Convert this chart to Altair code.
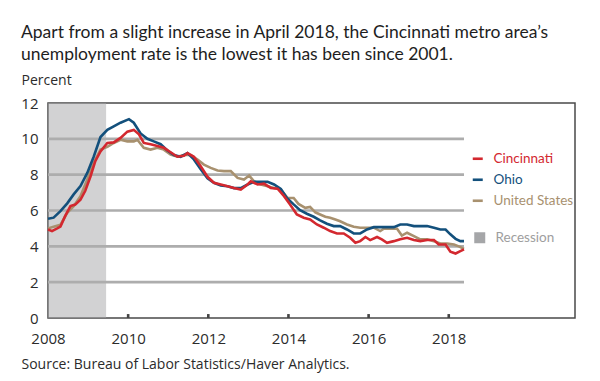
import altair as alt
import pandas as pd

title_lines = [
    "Apart from a slight increase in April 2018, the Cincinnati metro area\u2019s",
    "unemployment rate is the lowest it has been since 2001.",
]
y_title = "Percent"
source_text = "Source: Bureau of Labor Statistics/Haver Analytics."

series_names = ["Cincinnati", "Ohio", "United States"]
series_colors = ["#d3282f", "#13507c", "#a8916f"]

cin_years = [2008.0, 2008.1, 2008.23, 2008.31, 2008.43, 2008.56, 2008.68, 2008.81, 2008.93, 2009.06,
             2009.18, 2009.31, 2009.48, 2009.64, 2009.81, 2009.98, 2010.14, 2010.27, 2010.39, 2010.56,
             2010.73, 2010.89, 2011.06, 2011.23, 2011.39, 2011.48, 2011.64, 2011.81, 2011.98, 2012.14,
             2012.31, 2012.48, 2012.64, 2012.81, 2012.98, 2013.06, 2013.23, 2013.39, 2013.56, 2013.73,
             2013.89, 2014.04, 2014.21, 2014.38, 2014.54, 2014.71, 2014.88, 2015.04, 2015.21, 2015.38,
             2015.54, 2015.67, 2015.79, 2015.92, 2016.04, 2016.21, 2016.33, 2016.46, 2016.63, 2016.79,
             2016.96, 2017.13, 2017.29, 2017.46, 2017.63, 2017.75, 2017.92, 2018.04, 2018.17, 2018.29,
             2018.38]
cin_values = [4.94, 4.85, 5.0, 5.1, 5.7, 6.25, 6.33, 6.6, 7.1, 7.9,
              8.75, 9.3, 9.77, 9.8, 10.05, 10.4, 10.5, 10.25, 9.77, 9.7,
              9.6, 9.5, 9.25, 9.0, 9.05, 9.2, 9.0, 8.47, 7.88, 7.55,
              7.45, 7.35, 7.25, 7.17, 7.45, 7.63, 7.45, 7.5, 7.26, 7.22,
              6.8, 6.34, 5.78, 5.6, 5.5, 5.22, 5.04, 4.85, 4.72, 4.72,
              4.48, 4.2, 4.29, 4.52, 4.35, 4.52, 4.39, 4.2, 4.29, 4.39,
              4.48, 4.35, 4.29, 4.35, 4.35, 4.1, 4.1, 3.7, 3.6, 3.73,
              3.83]

ohio_years = [2008.0, 2008.14, 2008.31, 2008.48, 2008.64, 2008.81, 2008.98, 2009.14, 2009.31, 2009.48,
              2009.64, 2009.81, 2010.02, 2010.14, 2010.31, 2010.48, 2010.64, 2010.81, 2010.98, 2011.14,
              2011.31, 2011.48, 2011.64, 2011.81, 2011.98, 2012.14, 2012.31, 2012.48, 2012.64, 2012.81,
              2012.98, 2013.14, 2013.31, 2013.48, 2013.64, 2013.81, 2013.96, 2014.13, 2014.29, 2014.46,
              2014.63, 2014.79, 2014.96, 2015.13, 2015.29, 2015.46, 2015.63, 2015.79, 2015.96, 2016.13,
              2016.29, 2016.46, 2016.63, 2016.79, 2016.96, 2017.13, 2017.29, 2017.46, 2017.63, 2017.79,
              2017.92, 2018.04, 2018.17, 2018.29, 2018.38]
ohio_values = [5.54, 5.6, 5.96, 6.4, 6.9, 7.36, 8.1, 9.0, 10.1, 10.5,
               10.7, 10.9, 11.1, 10.9, 10.3, 10.0, 9.86, 9.7, 9.35, 9.1,
               9.0, 9.2, 8.85, 8.3, 7.8, 7.55, 7.4, 7.35, 7.25, 7.25,
               7.45, 7.6, 7.6, 7.6, 7.45, 7.2, 6.7, 6.34, 6.02, 5.82,
               5.65, 5.45, 5.26, 5.13, 5.13, 4.94, 4.72, 4.72, 4.94, 5.07,
               5.07, 5.07, 5.07, 5.22, 5.22, 5.13, 5.13, 5.13, 5.04, 4.94,
               4.94, 4.67, 4.42, 4.29, 4.29]

us_years = [2008.0, 2008.14, 2008.31, 2008.48, 2008.64, 2008.81, 2008.98, 2009.14, 2009.31, 2009.48,
            2009.64, 2009.81, 2009.98, 2010.14, 2010.23, 2010.39, 2010.56, 2010.73, 2010.89, 2011.06,
            2011.23, 2011.39, 2011.56, 2011.73, 2011.89, 2012.06, 2012.23, 2012.39, 2012.56, 2012.73,
            2012.89, 2013.02, 2013.14, 2013.31, 2013.48, 2013.64, 2013.81, 2013.98, 2014.13, 2014.25,
            2014.42, 2014.54, 2014.67, 2014.79, 2014.92, 2015.04, 2015.17, 2015.29, 2015.46, 2015.63,
            2015.79, 2015.96, 2016.13, 2016.29, 2016.38, 2016.54, 2016.71, 2016.83, 2016.96, 2017.13,
            2017.29, 2017.46, 2017.63, 2017.79, 2017.96, 2018.13, 2018.25, 2018.38]
us_values = [5.0, 5.1, 5.2, 5.87, 6.24, 6.8, 7.73, 8.65, 9.4, 9.55,
             9.77, 9.95, 9.86, 9.86, 9.95, 9.5, 9.4, 9.5, 9.4, 9.12,
             9.0, 9.1, 9.1, 8.84, 8.56, 8.38, 8.23, 8.2, 8.2, 7.82,
             7.73, 7.95, 7.63, 7.45, 7.35, 7.26, 7.17, 6.7, 6.7, 6.37,
             6.15, 6.2, 5.9, 5.78, 5.65, 5.6, 5.5, 5.4, 5.22, 5.09,
             5.04, 5.04, 5.04, 4.85, 4.98, 4.98, 4.98, 4.6, 4.76, 4.57,
             4.39, 4.39, 4.29, 4.16, 4.16, 4.1, 4.0, 3.86]

recession_label = "Recession"
recession_start = 2008.0
recession_end = 2009.45
grid_values = [2.0, 4.0, 6.0, 8.0, 10.0]
grid_end = 2018.38
x_label_years = [2008, 2010, 2012, 2014, 2016, 2018]
tick_years = [2010.0, 2012.0, 2014.0, 2016.0, 2018.0]
tick_height = 0.22
y_label_values = [0, 2, 4, 6, 8, 10, 12]
x_domain = [2008, 2021.15]
y_domain = [0, 12]

# ---- one table for every path: gridlines, tick marks, then the three series ----
rows = []
for g in grid_values:
    rows.append({"key": f"grid {g}", "kind": "grid", "x": float(x_domain[0]), "y": g, "ord": 0})
    rows.append({"key": f"grid {g}", "kind": "grid", "x": grid_end, "y": g, "ord": 1})
for t in tick_years:
    rows.append({"key": f"tick {t}", "kind": "tick", "x": t, "y": 0.0, "ord": 0})
    rows.append({"key": f"tick {t}", "kind": "tick", "x": t, "y": tick_height, "ord": 1})
for name, yrs, vals in [("United States", us_years, us_values),
                        ("Ohio", ohio_years, ohio_values),
                        ("Cincinnati", cin_years, cin_values)]:
    for i, (yr, v) in enumerate(zip(yrs, vals)):
        rows.append({"key": name, "kind": name, "x": yr, "y": v, "ord": i})
paths_df = pd.DataFrame(rows)

rec_df = pd.DataFrame({"rstart": [recession_start], "rend": [recession_end],
                       "rlo": [float(y_domain[0])], "rhi": [float(y_domain[1])],
                       "rlabel": [recession_label]})

W, H = 527, 215
xs = alt.Scale(domain=x_domain, nice=False, zero=False)
ys = alt.Scale(domain=y_domain, nice=False)

label_font = "Open Sans"
legend_font = "Lato"

kind_domain = series_names + ["grid", "tick"]
kind_colors = series_colors + ["#adadad", "#444444"]
kind_widths = [2.6, 2.6, 2.6, 1.3, 1.3]

color_expr = " : ".join(
    f"datum.value === '{n}' ? '{c}'" for n, c in zip(series_names[:-1], series_colors[:-1])
) + f" : '{series_colors[-1]}'"

x_axis = alt.Axis(values=x_label_years, format="d", tickSize=0, domain=False, grid=False,
                  labelFontSize=15, labelPadding=13, labelColor="#2b2b2b", labelFont=label_font,
                  labelOverlap=False, labelFlush=False,
                  title=source_text, titleX=-27, titleY=50, titleAlign="left",
                  titleBaseline="alphabetic", titleFontSize=14, titleFontWeight="normal",
                  titleColor="#2b2b2b", titleFont=label_font)
y_axis = alt.Axis(values=y_label_values, tickSize=0, domain=False, grid=False,
                  labelFontSize=15, labelPadding=10, labelColor="#2b2b2b", labelFont=label_font,
                  labelOverlap=False, labelFlush=False,
                  title=y_title, titleX=-27, titleY=-19, titleAngle=0, titleAlign="left",
                  titleBaseline="alphabetic", titleFontSize=14, titleFontWeight="normal",
                  titleColor="#2b2b2b", titleFont=label_font)

rec = alt.Chart(rec_df).mark_rect(fillOpacity=0.5).encode(
    x=alt.X("rstart:Q", scale=xs, axis=x_axis),
    x2="rend:Q",
    y=alt.Y("rlo:Q", scale=ys, axis=y_axis),
    y2="rhi:Q",
    fill=alt.Fill("rlabel:N", scale=alt.Scale(domain=[recession_label], range=["#a5a6a8"]),
                  legend=alt.Legend(orient="none", legendX=425, legendY=128, title=None,
                                    symbolType="square", symbolSize=121, symbolStrokeWidth=0,
                                    labelFont=legend_font, labelFontSize=13.5, labelColor="#9e9e9e",
                                    labelOffset=9, padding=0)),
)

paths = alt.Chart(paths_df).mark_line(interpolate="linear").encode(
    x=alt.X("x:Q", scale=xs, axis=x_axis),
    y=alt.Y("y:Q", scale=ys, axis=y_axis),
    detail="key:N",
    order="ord:Q",
    strokeWidth=alt.StrokeWidth("kind:N", scale=alt.Scale(domain=kind_domain, range=kind_widths),
                                legend=None),
    color=alt.Color("kind:N", scale=alt.Scale(domain=kind_domain, range=kind_colors),
                    legend=alt.Legend(orient="none", legendX=423, legendY=49, title=None,
                                      values=series_names,
                                      symbolType="stroke", symbolSize=100, symbolStrokeWidth=3,
                                      labelFont=legend_font, labelFontSize=13.5,
                                      labelColor={"expr": color_expr},
                                      labelOffset=9, rowPadding=6, padding=0)),
)

chart = alt.layer(rec, paths).properties(
    width=W, height=H,
    autosize=alt.AutoSizeParams(type="none"),
    padding={"left": 40, "top": 95, "right": 17, "bottom": 55},
    title=alt.TitleParams(text=title_lines, anchor="start", frame="group", dx=-27, offset=10,
                          font="Lato", fontSize=17.5, fontWeight="normal", color="#1e1e1e",
                          lineHeight=22),
).configure_view(stroke="#4a4a4a", strokeWidth=1.5)

chart.save("out.html", embed_options={"renderer": "svg", "actions": False})
